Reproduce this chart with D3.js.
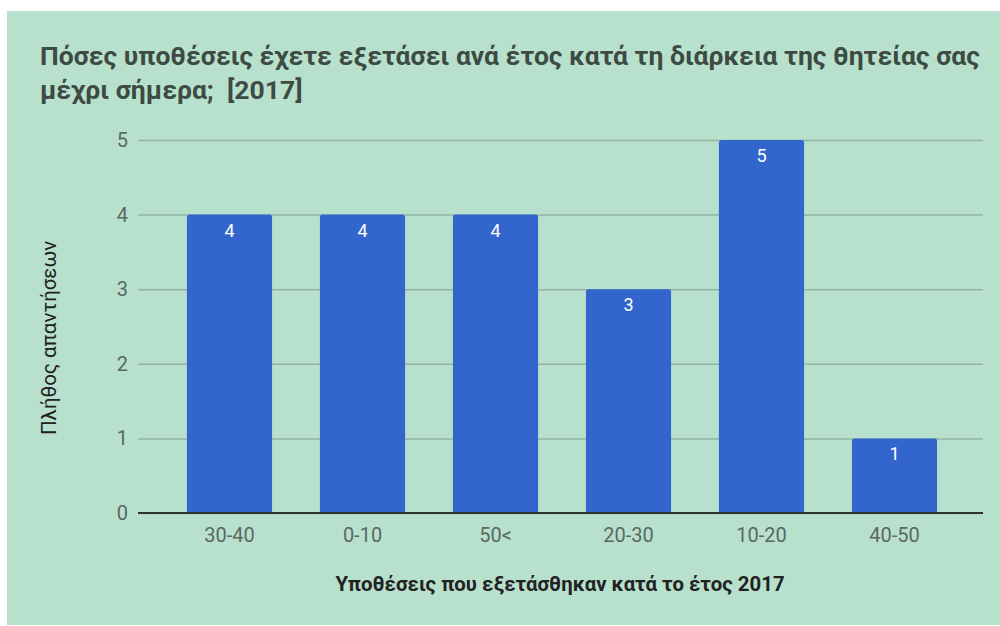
<html>
<head>
  <meta charset="utf-8">
  <script src="https://d3js.org/d3.v7.min.js"></script>
  <style>
    body { margin: 0; background: #fff; }
    text { font-family: Roboto, "Noto Sans", sans-serif; white-space: pre; }
    .gridlines line { stroke: #93b4a4; stroke-width: 1.5; }
    .gridlines .domain { stroke: none; }
    .gridlines text { font-size: 20px; fill: #5b6862; }
    .xaxis .domain { stroke: none; }
    .xaxis text { font-size: 20px; fill: #5b6862; }
  </style>
</head>
<body>
  <svg id="chart" width="1000" height="626"></svg>
  <script>
    // data
    const categories = ["30-40", "0-10", "50<", "20-30", "10-20", "40-50"];
    const counts = [4, 4, 4, 3, 5, 1];
    const yTicks = [0, 1, 2, 3, 4, 5];
    const titleLines = ["Πόσες υποθέσεις έχετε εξετάσει ανά έτος κατά τη διάρκεια της θητείας σας",
                        "μέχρι σήμερα;  [2017]"];
    const xTitle = "Υποθέσεις που εξετάσθηκαν κατά το έτος 2017";
    const yTitle = "Πλήθος απαντήσεων";

    const data = categories.map((c, i) => ({ cat: c, value: counts[i] }));

    let svg = d3.select("svg#chart");

    // green panel
    svg.append("rect")
      .attr("x", 7)
      .attr("y", 11)
      .attr("width", 993)
      .attr("height", 614)
      .style("fill", "#b7e1cd");

    // title
    titleLines.forEach((t, i) => {
      svg.append("text")
        .attr("x", 40)
        .attr("y", 65 + 34 * i)
        .style("font-size", "26.5px")
        .style("font-weight", "bold")
        .style("fill", "#3e4a44")
        .text(t);
    });

    const plotLeft = 138, plotRight = 983;
    const yScale = d3.scaleLinear().domain([0, 5]).range([513, 140]);
    const xScale = d3.scaleBand().domain(categories).range([163, 961])
      .paddingInner(0.36).paddingOuter(0.18);

    // gridlines + y tick labels
    let leftGrid = d3.axisLeft(yScale)
      .tickValues(yTicks)
      .tickFormat(d3.format("d"))
      .tickSize(-(plotRight - plotLeft))
      .tickPadding(10);
    svg.append("g")
      .attr("class", "gridlines")
      .attr("transform", `translate(${plotLeft},0)`)
      .call(leftGrid);

    // bars with rounded tops
    const r = 2.5;
    svg.append("g").selectAll("path").data(data)
      .join("path")
      .attr("d", d => {
        const x0 = xScale(d.cat), x1 = x0 + xScale.bandwidth();
        const y0 = yScale(d.value), yb = yScale(0);
        return `M${x0},${yb} L${x0},${y0 + r} Q${x0},${y0} ${x0 + r},${y0} L${x1 - r},${y0} Q${x1},${y0} ${x1},${y0 + r} L${x1},${yb} Z`;
      })
      .style("fill", "#3366cc");

    // bar value labels
    svg.append("g").selectAll("text").data(data)
      .join("text")
      .attr("x", d => xScale(d.cat) + xScale.bandwidth() / 2)
      .attr("y", d => yScale(d.value) + 22)
      .attr("text-anchor", "middle")
      .style("font-size", "18px")
      .style("fill", "#ffffff")
      .text(d => d.value);

    // baseline
    svg.append("line")
      .attr("x1", plotLeft)
      .attr("x2", plotRight)
      .attr("y1", yScale(0))
      .attr("y2", yScale(0))
      .style("stroke", "#333")
      .style("stroke-width", 2);

    // x axis labels
    let bottomAxis = d3.axisBottom(xScale).tickSize(0).tickPadding(15);
    svg.append("g")
      .attr("class", "xaxis")
      .attr("transform", `translate(0,${yScale(0)})`)
      .call(bottomAxis);

    // X axis title
    svg.append("text")
      .attr("text-anchor", "middle")
      .attr("x", 560)
      .attr("y", 591)
      .style("font-size", "20.4px")
      .style("font-weight", "bold")
      .style("fill", "#222")
      .text(xTitle);

    // Y axis title
    svg.append("text")
      .attr("text-anchor", "middle")
      .attr("transform", "rotate(-90)")
      .attr("x", -338)
      .attr("y", 56)
      .style("font-size", "20.5px")
      .style("fill", "#222")
      .text(yTitle);
  </script>
</body>
</html>
